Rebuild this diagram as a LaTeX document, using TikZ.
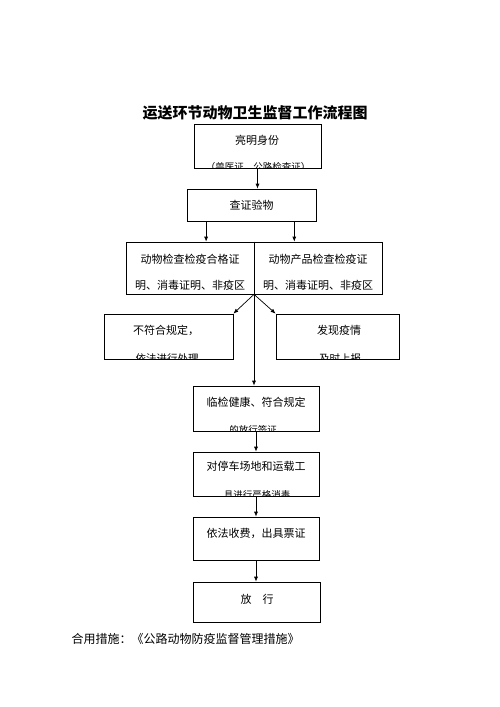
\documentclass[tikz,border=0pt]{standalone}
\usepackage{fontspec}
\newfontfamily\cjk{Noto Sans CJK SC}
\usetikzlibrary{calc,arrows.meta}

\begin{document}
\begin{tikzpicture}[x=1pt, y=-1pt,
        box/.style={draw, line width=0.7pt, inner sep=0pt},
        testo/.style={font=\cjk\fontsize{11}{11}\selectfont},
        riga/.style={font=\cjk\fontsize{9.5}{9.5}\selectfont},
        freccia/.style={line width=0.7pt, -{Latex[length=5pt, width=4pt]}}]
        % Area della pagina (500 x 707)
        \useasboundingbox[fill=white] (0,0) rectangle (500,707);

        % Titolo
        \node[font=\cjk\bfseries\fontsize{15}{15}\selectfont] (titolo) at (255,113) {运送环节动物卫生监督工作流程图};

        % Riquadri del flusso (posizionati a coordinate)
        \node[box, minimum width=127, minimum height=44] (b1) at (257.5,146) {};
        \node[box, minimum width=129, minimum height=32] (b2) at (251.5,205) {};
        \node[box, minimum width=256, minimum height=52] (b3) at (254,268) {};
        \node[box, minimum width=129, minimum height=45] (b4l) at (168.5,336.5) {};
        \node[box, minimum width=123, minimum height=45] (b4r) at (337.5,336.5) {};
        \node[box, minimum width=126, minimum height=45] (b5) at (256,408.5) {};
        \node[box, minimum width=126, minimum height=44] (b6) at (256,474) {};
        \node[box, minimum width=126, minimum height=43] (b7) at (256,538.5) {};
        \node[box, minimum width=127, minimum height=40] (b8) at (256.5,602) {};

        % Divisione centrale del riquadro doppio
        \draw[line width=0.7pt] (b3.north) -- (b3.south);

        % Testi principali
        \node[testo] (t1) at (257,140) {亮明身份};
        \node[testo] (t2) at (b2.center) {查证验物};
        \node[testo] (t3a) at (190,259) {动物检查检疫合格证};
        \node[testo] (t3b) at (190,285) {明、消毒证明、非疫区};
        \node[testo] (t3c) at (318,259) {动物产品检查检疫证};
        \node[testo] (t3d) at (318,285) {明、消毒证明、非疫区};
        \node[testo] (t4l) at (166,330) {不符合规定，};
        \node[testo] (t4r) at (339,330) {发现疫情};
        \node[testo] (t5) at (256,402) {临检健康、符合规定};
        \node[testo] (t6) at (256,466) {对停车场地和运载工};
        \node[testo] (t7) at (256,533) {依法收费，出具票证};
        \node[testo] (t8) at (257,599) {放　行};

        % Seconde righe tagliate dal bordo inferiore dei riquadri
        \begin{scope}
            \clip (b1.south west) rectangle (b1.north east);
            \node[riga] (r1) at (258,167) {（兽医证、公路检查证）};
        \end{scope}
        \begin{scope}
            \clip (b4l.south west) rectangle (b4l.north east);
            \node[riga, font=\cjk\fontsize{10.5}{10.5}\selectfont] (r4l) at (167,359) {依法进行处理};
        \end{scope}
        \begin{scope}
            \clip (b4r.south west) rectangle (b4r.north east);
            \node[riga, font=\cjk\fontsize{10.5}{10.5}\selectfont] (r4r) at (340,359) {及时上报};
        \end{scope}
        \begin{scope}
            \clip (b5.south west) rectangle (b5.north east);
            \node[riga] (r5) at (253,430) {的放行签证};
        \end{scope}
        \begin{scope}
            \clip (b6.south west) rectangle (b6.north east);
            \node[riga] (r6) at (257,495) {具进行严格消毒};
        \end{scope}

        % Frecce di collegamento
        \draw[freccia] (b1.south) -- (b1.south |- b2.north);
        \coordinate (s1) at ($(b2.south west)!0.15!(b2.south east)$);
        \coordinate (s2) at ($(b2.south west)!0.83!(b2.south east)$);
        \draw[freccia] (s1) -- (s1 |- b3.north);
        \draw[freccia] (s2) -- (s2 |- b3.north);
        \draw[freccia] (b3.south) -- (b4l.north east);
        \draw[freccia] (b3.south) -- (b4r.north west);
        \draw[freccia] (b3.south) -- (b3.south |- b5.north);
        \draw[freccia] (b5.south) -- (b5.south |- b6.north);
        \draw[freccia] (b6.south) -- (b6.south |- b7.north);
        \draw[freccia] (b7.south) -- (b7.south |- b8.north);

        % Nota in fondo
        \node[anchor=west, font=\cjk\fontsize{12}{12}\selectfont] (nota) at (68,639) {合用措施：《公路动物防疫监督管理措施》};
    \end{tikzpicture}
\end{document}
